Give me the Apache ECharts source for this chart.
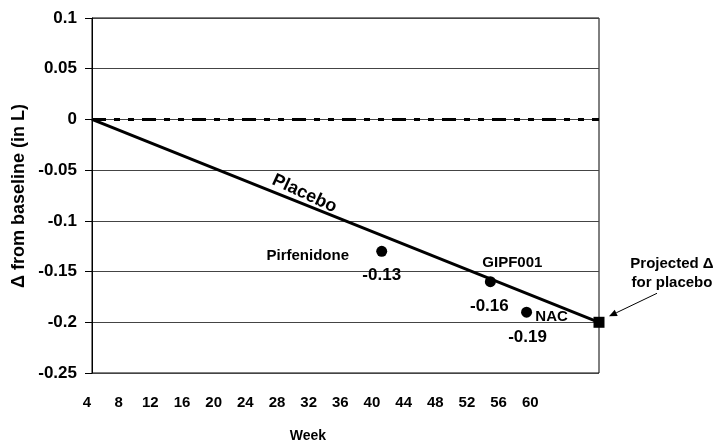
<!DOCTYPE html>
<html>
<head>
<meta charset="utf-8">
<script src="https://cdn.jsdelivr.net/npm/echarts@6/dist/echarts.min.js"></script>
<style>html,body{margin:0;padding:0;background:#fff}#c{width:719px;height:442px}</style>
</head>
<body>
<div id="c"></div>
<script>
// ---- data ----
var weekTicks = [4, 8, 12, 16, 20, 24, 28, 32, 36, 40, 44, 48, 52, 56, 60];
var yTicks = [0.1, 0.05, 0, -0.05, -0.1, -0.15, -0.2, -0.25];
var placeboWeeks = [4, 60];
var placeboValues = [0, -0.2];
var zeroWeeks = [4, 60];
var zeroValues = [0, 0];
var trialNames = ['Pirfenidone', 'GIPF001', 'NAC'];
var trialWeeks = [36, 48, 52];
var trialValues = [-0.13, -0.16, -0.19];
var projectedWeek = 60;
var projectedValue = -0.2;

var FONT = '"Liberation Sans", Arial, sans-serif';
var chart = echarts.init(document.getElementById('c'), null, {renderer: 'canvas'});

var nameOffsets = [[-74, 5], [22, -19], [25, 5]];
var valueOffsets = [[0, 24], [-1, 25], [1, 25]];

var trialData = trialWeeks.map(function (w, i) { return [w, trialValues[i]]; });

var option = {
  animation: false,
  backgroundColor: '#fff',
  grid: [
    {left: 92, right: 120, top: 18, bottom: 69, show: true, borderColor: '#000', borderWidth: 1},
    {left: 87, right: 125.4, top: 18, bottom: 69, show: false}
  ],
  xAxis: [
    {type: 'value', gridIndex: 0, min: 4, max: 60, show: false},
    {type: 'value', gridIndex: 1, min: 4, max: 68, interval: 4,
     axisLine: {show: false}, axisTick: {show: false}, splitLine: {show: false},
     axisLabel: {margin: 22, color: '#000', fontWeight: 'bold', fontSize: 15, fontFamily: FONT,
       formatter: function (v) { return weekTicks.indexOf(v) >= 0 ? String(v) : ''; }}}
  ],
  yAxis: [
    {type: 'value', gridIndex: 0, min: -0.25, max: 0.1, interval: 0.05,
     axisLine: {show: true, lineStyle: {color: '#000', width: 1}},
     axisTick: {show: true, length: 7, lineStyle: {color: '#000'}},
     splitLine: {show: true, lineStyle: {color: '#444', width: 1}},
     axisLabel: {margin: 15, color: '#000', fontWeight: 'bold', fontSize: 17, fontFamily: FONT,
       formatter: function (v) {
         var r = Math.round(v * 100) / 100;
         for (var i = 0; i < yTicks.length; i++) if (Math.abs(yTicks[i] - r) < 1e-9) return String(yTicks[i]);
         return '';
       }}},
    {type: 'value', gridIndex: 1, min: -0.25, max: 0.1, show: false}
  ],
  series: [
    {type: 'line', xAxisIndex: 0, yAxisIndex: 0, symbol: 'none',
     data: zeroWeeks.map(function (w, i) { return [w, zeroValues[i]]; }),
     lineStyle: {color: '#000', width: 3, type: [14, 8, 6, 8, 6, 8]}, z: 3},
    {type: 'line', xAxisIndex: 0, yAxisIndex: 0, symbol: 'none',
     data: placeboWeeks.map(function (w, i) { return [w, placeboValues[i]]; }),
     lineStyle: {color: '#000', width: 3}, z: 4},
    {type: 'scatter', xAxisIndex: 0, yAxisIndex: 0, symbol: 'circle', symbolSize: 11,
     itemStyle: {color: '#000', opacity: 1}, z: 5,
     data: trialData.map(function (d, i) {
       return {value: d, label: {show: true, position: 'inside', offset: valueOffsets[i],
         formatter: String(trialValues[i]), color: '#000', fontWeight: 'bold', fontSize: 17, fontFamily: FONT}};
     })},
    {type: 'scatter', xAxisIndex: 0, yAxisIndex: 0, symbol: 'circle', symbolSize: 1,
     itemStyle: {color: '#fff', opacity: 1, borderWidth: 0}, z: 2,
     data: trialData.map(function (d, i) {
       return {value: d, label: {show: true, position: 'inside', offset: nameOffsets[i],
         formatter: trialNames[i], color: '#000', fontWeight: 'bold', fontSize: 15, fontFamily: FONT}};
     })},
    {type: 'scatter', xAxisIndex: 0, yAxisIndex: 0, symbol: 'rect', symbolSize: 11,
     itemStyle: {color: '#000', opacity: 1}, z: 7,
     data: [[projectedWeek, projectedValue]]}
  ]
};
chart.setOption(option);

// annotations positioned from the axes
var p0 = chart.convertToPixel({gridIndex: 0}, [placeboWeeks[0], placeboValues[0]]);
var p1 = chart.convertToPixel({gridIndex: 0}, [placeboWeeks[1], placeboValues[1]]);
var ang = Math.atan2(p1[1] - p0[1], p1[0] - p0[0]);
var lw = 27.0;
var lp = chart.convertToPixel({gridIndex: 0}, [lw, placeboValues[0] + (placeboValues[1] - placeboValues[0]) * (lw - placeboWeeks[0]) / (placeboWeeks[1] - placeboWeeks[0])]);
var rotA = ang + 0.05;
var off = 10;
var lx = lp[0] + Math.sin(rotA) * off, ly = lp[1] - Math.cos(rotA) * off;

var sq = chart.convertToPixel({gridIndex: 0}, [projectedWeek, projectedValue]);
var tip = [sq[0] + 10, sq[1] - 6];
var start = [sq[0] + 58, sq[1] - 29];
var dx = tip[0] - start[0], dy = tip[1] - start[1];
var L = Math.sqrt(dx * dx + dy * dy), ux = dx / L, uy = dy / L;
var ah = 8, aw = 3.5;
var base = [tip[0] - ux * ah, tip[1] - uy * ah];

chart.setOption({
  graphic: [
    {type: 'text', x: lx, y: ly, rotation: -rotA, originX: 0, originY: 0,
     style: {text: 'Placebo', x: 0, y: 0, align: 'center', verticalAlign: 'middle',
       font: 'bold 18px ' + FONT, fill: '#000'}},
    {type: 'text', x: 19, y: 196, rotation: Math.PI / 2,
     style: {text: 'Δ from baseline (in L)', x: 0, y: 0, align: 'center', verticalAlign: 'middle',
       font: 'bold 18px ' + FONT, fill: '#000'}},
    {type: 'text', x: 308, y: 436,
     style: {text: 'Week', x: 0, y: 0, align: 'center', verticalAlign: 'middle',
       font: 'bold 14px ' + FONT, fill: '#000'}},
    {type: 'text', x: 672, y: 273,
     style: {text: 'Projected Δ\nfor placebo', x: 0, y: 0, align: 'center', verticalAlign: 'middle',
       lineHeight: 19, font: 'bold 15px ' + FONT, fill: '#000'}},
    {type: 'line', shape: {x1: start[0], y1: start[1], x2: base[0], y2: base[1]},
     style: {stroke: '#000', lineWidth: 1}},
    {type: 'polygon', shape: {points: [tip, [base[0] - uy * aw, base[1] + ux * aw], [base[0] + uy * aw, base[1] - ux * aw]]},
     style: {fill: '#000'}}
  ]
});
</script>
</body>
</html>
